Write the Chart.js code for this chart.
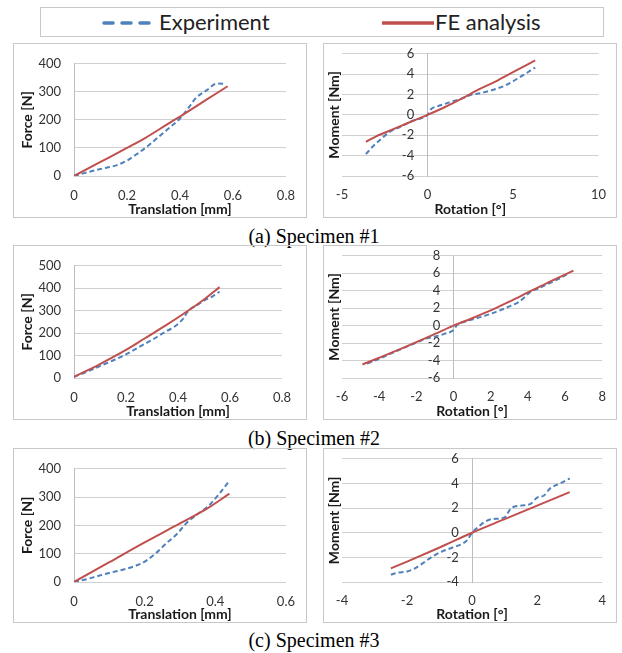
<!DOCTYPE html>
<html>
<head>
<meta charset="utf-8">
<script src="https://cdn.jsdelivr.net/npm/chart.js@4.4.1/dist/chart.umd.min.js"></script>
<style>
body { margin: 0; background: #fff; width: 622px; height: 653px; position: relative; overflow: hidden; font-family: Lato, sans-serif; }
canvas { position: absolute; }
.frame { position: absolute; border: 1px solid #c8c8c8; box-sizing: border-box; pointer-events: none; }
.cap { position: absolute; left: 0; width: 628px; text-align: center; font-family: "Liberation Serif", serif; font-size: 20px; line-height: 24px; color: #000; }
#legend { position: absolute; left: 40px; top: 7px; width: 564px; height: 30px; border: 1px solid #c8c8c8; box-sizing: border-box; }
#legend span { position: absolute; top: 0; font-size: 22px; line-height: 28px; color: #222; }
#legend svg { position: absolute; top: 12px; }
</style>
</head>
<body>
<div id="legend">
  <svg style="left:60px" width="52" height="6"><line x1="3" y1="3" x2="49" y2="3" stroke="#4f81bd" stroke-width="3.5" stroke-dasharray="9 9" stroke-linecap="round"/></svg>
  <span style="left:118px">Experiment</span>
  <svg style="left:340px" width="54" height="6"><line x1="1" y1="3" x2="53" y2="3" stroke="#c0504d" stroke-width="3.5"/></svg>
  <span style="left:394px">FE analysis</span>
</div>
<div class="cap" style="top:224px">(a) Specimen #1</div>
<div class="cap" style="top:426px">(b) Specimen #2</div>
<div class="cap" style="top:628px">(c) Specimen #3</div>

<script>
// Specimen #1 : [translation mm, force N] / [rotation deg, moment Nm]
const s1ForceExp = [[0,0],[0.05,13],[0.1,25],[0.16,38],[0.2,55],[0.24,80],[0.28,108],[0.32,140],[0.36,172],[0.4,205],[0.43,240],[0.46,278],[0.5,305],[0.54,330],[0.57,328]];
const s1ForceFE = [[0,0],[0.1,50],[0.2,100],[0.27,136],[0.35,183],[0.4,212],[0.5,272],[0.58,320]];
const s1MomentExp = [[-3.6,-3.85],[-3.2,-3.1],[-2.8,-2.5],[-2.25,-1.7],[-1.5,-1.1],[-0.9,-0.6],[-0.3,-0.3],[0,0],[0.2,0.55],[0.6,0.85],[1,1.07],[1.5,1.35],[2,1.6],[2.5,1.95],[3,2.1],[3.5,2.3],[4,2.55],[4.5,2.85],[5,3.3],[5.5,3.8],[6.3,4.65]];
const s1MomentFE = [[-3.6,-2.65],[-3,-2.1],[-2,-1.4],[-1,-0.7],[0,0],[1,0.75],[2,1.6],[3,2.5],[4,3.3],[5,4.2],[6.3,5.35]];

// Specimen #2
const s2ForceExp = [[0,5],[0.05,28],[0.1,53],[0.15,78],[0.2,105],[0.25,138],[0.3,170],[0.35,205],[0.39,232],[0.42,265],[0.44,300],[0.47,322],[0.5,345],[0.53,362],[0.56,385]];
const s2ForceFE = [[0,5],[0.1,62],[0.2,125],[0.27,175],[0.35,232],[0.42,285],[0.5,350],[0.56,405]];
const s2MomentExp = [[-4.65,-4.35],[-4,-3.8],[-3,-2.85],[-2,-1.95],[-1.5,-1.5],[-1,-1.25],[-0.5,-0.95],[0,-0.5],[0.2,0.1],[0.6,0.45],[1,0.7],[1.5,1.0],[2,1.35],[2.5,1.75],[3,2.2],[3.5,2.7],[3.8,3.2],[4.1,3.8],[4.6,4.3],[5,4.7],[5.5,5.2],[5.8,5.5],[6.2,6.0]];
const s2MomentFE = [[-4.9,-4.45],[-3,-2.8],[-1,-0.95],[0,0],[1,0.85],[2,1.75],[3,2.75],[4,3.8],[5,4.85],[6.45,6.3]];

// Specimen #3
const s3ForceExp = [[0,0],[0.03,8],[0.07,22],[0.1,32],[0.14,44],[0.18,60],[0.2,72],[0.23,100],[0.26,135],[0.29,168],[0.32,210],[0.35,240],[0.38,268],[0.41,310],[0.44,358]];
const s3ForceFE = [[0,0],[0.1,70],[0.2,140],[0.3,207],[0.38,262],[0.44,312]];
const s3MomentExp = [[-2.5,-3.4],[-2.3,-3.25],[-2,-3.15],[-1.8,-2.95],[-1.5,-2.45],[-1.2,-1.9],[-0.9,-1.5],[-0.6,-1.2],[-0.3,-0.9],[-0.15,-0.6],[0,0],[0.2,0.5],[0.4,0.9],[0.6,1.1],[1.0,1.25],[1.2,2.0],[1.5,2.2],[1.8,2.35],[2.0,2.85],[2.2,3.0],[2.4,3.6],[2.7,4.0],[3.0,4.4]];
const s3MomentFE = [[-2.5,-2.9],[-2,-2.35],[-1,-1.2],[0,0],[1,1.1],[2,2.2],[3,3.3]];

// axis ranges: [min, max, step]
const forceX = [[0, 0.8, 0.2], [0, 0.8, 0.2], [0, 0.6, 0.2]];
const forceY = [[0, 400, 100], [0, 500, 100], [0, 400, 100]];
const momentX = [[-5, 10, 5], [-6, 8, 2], [-4, 4, 2]];
const momentY = [[-6, 6, 2], [-6, 8, 2], [-4, 6, 2]];

const blue = '#4f81bd';
const red = '#c0504d';
const tickFont = { family: 'Lato', size: 13 };
const titleFont = { family: 'Lato', size: 14, weight: 'bold' };
const tickColor = '#333333';
const titleColor = '#1a1a1a';
const gridColor = '#d0d0d0';

// panel frame [left, top, width, height] and plot area [left, top, right, bottom]
const panels = [
  { box: [13, 43, 294, 175], area: [74, 53, 289, 176], kind: 'force', i: 0, exp: s1ForceExp, fe: s1ForceFE },
  { box: [323, 43, 294, 175], area: [342, 53, 604, 176], kind: 'moment', i: 0, exp: s1MomentExp, fe: s1MomentFE },
  { box: [13, 245, 294, 175], area: [74, 255, 282, 378], kind: 'force', i: 1, exp: s2ForceExp, fe: s2ForceFE },
  { box: [323, 245, 294, 175], area: [342, 255, 605, 378], kind: 'moment', i: 1, exp: s2MomentExp, fe: s2MomentFE },
  { box: [13, 448, 294, 175], area: [74, 458, 296, 582], kind: 'force', i: 2, exp: s3ForceExp, fe: s3ForceFE },
  { box: [323, 448, 294, 175], area: [342, 458, 605, 582], kind: 'moment', i: 2, exp: s3MomentExp, fe: s3MomentFE }
];

function toPoints(arr) {
  return arr.map(p => ({ x: p[0], y: p[1] }));
}

function makeChart(p) {
  const [bl, bt, bw, bh] = p.box;
  const [al, at, ar, ab] = p.area;
  const cv = document.createElement('canvas');
  cv.width = bw;
  cv.height = bh;
  cv.style.left = bl + 'px';
  cv.style.top = bt + 'px';
  document.body.appendChild(cv);
  const fr = document.createElement('div');
  fr.className = 'frame';
  fr.style.left = bl + 'px';
  fr.style.top = bt + 'px';
  fr.style.width = bw + 'px';
  fr.style.height = bh + 'px';
  document.body.appendChild(fr);

  const force = p.kind === 'force';
  const xr = force ? forceX[p.i] : momentX[p.i];
  const yr = force ? forceY[p.i] : momentY[p.i];
  const yWidth = al - bl;
  const xHeight = bt + bh - ab;

  const scales = {
    x: {
      type: 'linear', min: xr[0], max: xr[1],
      ticks: { stepSize: xr[2], padding: force ? 12 : 11, font: tickFont, color: tickColor },
      grid: { display: false, drawTicks: false },
      border: { display: false },
      title: { display: true, text: force ? 'Translation [mm]' : 'Rotation [°]', font: titleFont, color: titleColor, padding: { top: 0, bottom: 0 } },
      afterFit: s => { s.height = xHeight; }
    },
    y: {
      type: 'linear', position: 'left', min: yr[0], max: yr[1],
      ticks: { display: force, stepSize: yr[2], padding: 13, font: tickFont, color: tickColor, autoSkip: false },
      grid: { color: gridColor, drawTicks: false },
      border: { display: force, color: '#bdbdbd' },
      title: { display: true, text: force ? 'Force [N]' : 'Moment [Nm]', font: titleFont, color: titleColor, padding: { top: force ? 6.5 : 3.5, bottom: 0 } },
      afterFit: s => { s.width = yWidth; }
    }
  };
  if (!force) {
    // value labels and axis line at the crossing with rotation 0
    scales.yc = {
      type: 'linear', position: { x: 0 }, min: yr[0], max: yr[1],
      ticks: { stepSize: yr[2], font: tickFont, color: tickColor, autoSkip: false, callback: v => v + '    ' },
      grid: { display: false, drawTicks: false },
      border: { display: true, color: '#bdbdbd' }
    };
  }

  new Chart(cv, {
    type: 'scatter',
    data: {
      datasets: [
        { label: 'FE analysis', data: toPoints(p.fe), yAxisID: 'y', showLine: true, borderColor: red, borderWidth: 2, pointRadius: 0, cubicInterpolationMode: 'monotone' },
        { label: 'Experiment', data: toPoints(p.exp), yAxisID: 'y', showLine: true, borderColor: blue, borderWidth: 2, borderDash: [5, 3], pointRadius: 0, cubicInterpolationMode: 'monotone' }
      ]
    },
    options: {
      responsive: false,
      animation: false,
      devicePixelRatio: 1,
      events: [],
      layout: { padding: { left: 0, top: at - bt, right: bl + bw - ar, bottom: 0 } },
      plugins: { legend: { display: false }, tooltip: { enabled: false } },
      scales: scales
    }
  });
}

panels.forEach(makeChart);
</script>
</body>
</html>
